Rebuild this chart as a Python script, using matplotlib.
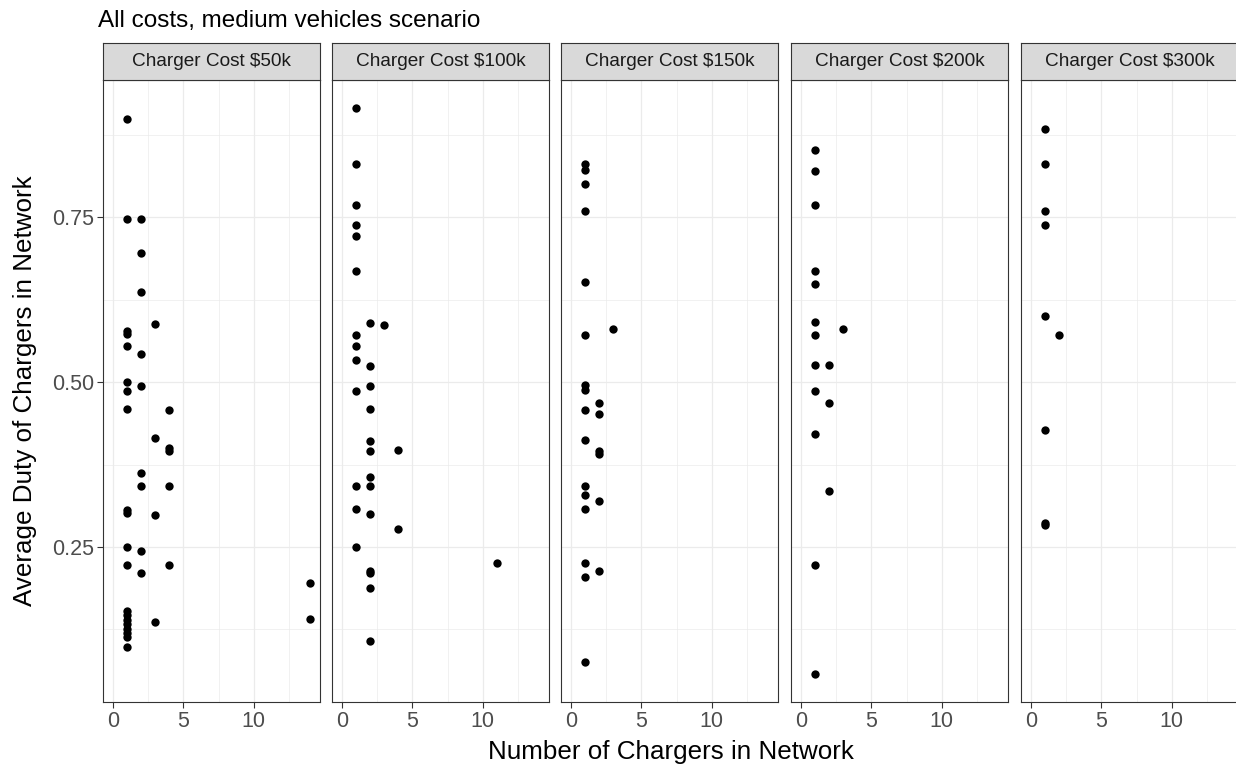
import matplotlib
matplotlib.use("Agg")
import matplotlib.pyplot as plt
import numpy as np

plt.rcParams['font.family'] = ['Liberation Sans', 'DejaVu Sans']

# Data, one pair of lists per facet
panel_titles = ["Charger Cost $50k", "Charger Cost $100k", "Charger Cost $150k",
                "Charger Cost $200k", "Charger Cost $300k"]

chargers_50k = [1, 1, 2, 2, 2, 3, 1, 1, 1, 2, 1, 1, 2, 1, 4, 3, 4, 4, 2, 2,
                4, 1, 1, 3, 1, 2, 1, 4, 2, 14, 14, 3, 1, 1, 1, 1, 1, 1, 1, 1]
duty_50k = [0.899, 0.748, 0.748, 0.695, 0.636, 0.588, 0.578, 0.573, 0.555, 0.542,
            0.500, 0.487, 0.494, 0.459, 0.457, 0.415, 0.400, 0.396, 0.362, 0.342,
            0.342, 0.306, 0.302, 0.298, 0.250, 0.244, 0.222, 0.222, 0.210, 0.195,
            0.141, 0.137, 0.153, 0.147, 0.140, 0.133, 0.126, 0.119, 0.113, 0.099]

chargers_100k = [1, 1, 1, 1, 1, 1, 2, 3, 1, 1, 1, 2, 1, 2, 2, 2, 2, 4, 2, 1,
                 2, 1, 2, 4, 1, 11, 2, 2, 2, 2]
duty_100k = [0.915, 0.830, 0.769, 0.738, 0.721, 0.668, 0.590, 0.587, 0.572, 0.555,
             0.533, 0.525, 0.487, 0.494, 0.459, 0.410, 0.396, 0.397, 0.356, 0.343,
             0.342, 0.308, 0.300, 0.277, 0.250, 0.225, 0.213, 0.210, 0.188, 0.108]

chargers_150k = [1, 1, 1, 1, 1, 1, 3, 1, 1, 2, 1, 2, 1, 2, 2, 1, 1, 2, 1, 1,
                 2, 1, 1]
duty_150k = [0.831, 0.821, 0.801, 0.759, 0.652, 0.572, 0.580, 0.495, 0.488, 0.469,
             0.458, 0.452, 0.412, 0.396, 0.391, 0.342, 0.329, 0.319, 0.308, 0.225,
             0.213, 0.204, 0.076]

chargers_200k = [1, 1, 1, 1, 1, 1, 3, 1, 1, 2, 1, 2, 1, 2, 1, 1]
duty_200k = [0.852, 0.820, 0.769, 0.668, 0.648, 0.591, 0.580, 0.572, 0.526, 0.526,
             0.487, 0.469, 0.422, 0.335, 0.222, 0.058]

chargers_300k = [1, 1, 1, 1, 1, 2, 1, 1, 1]
duty_300k = [0.883, 0.830, 0.759, 0.738, 0.600, 0.571, 0.427, 0.287, 0.283]

chargers = [chargers_50k, chargers_100k, chargers_150k, chargers_200k, chargers_300k]
duties = [duty_50k, duty_100k, duty_150k, duty_200k, duty_300k]

W, H = 1236, 767
fig = plt.figure(figsize=(W / 100, H / 100), dpi=100)

panel_left = [103, 332, 561, 791, 1021]
panel_w = 217
panel_top, panel_bot = 80, 702
strip_top = 43

grid_col = "#ebebeb"
edge_col = "#333333"

for i in range(5):
    l = panel_left[i]
    ax = fig.add_axes([l / W, 1 - panel_bot / H, panel_w / W, (panel_bot - panel_top) / H])
    ax.scatter(chargers[i], duties[i], s=36, color="black", linewidths=0, zorder=3)
    ax.set_xlim(-0.7, 14.7)
    ax.set_ylim(0.015, 0.958)
    ax.set_xticks([0, 5, 10])
    ax.set_xticks([2.5, 7.5, 12.5], minor=True)
    ax.set_yticks([0.25, 0.50, 0.75])
    ax.set_yticks([0.125, 0.375, 0.625, 0.875], minor=True)
    ax.grid(which="major", color=grid_col, linewidth=0.9, zorder=0)
    ax.grid(which="minor", color=grid_col, linewidth=0.5, zorder=0)
    ax.set_axisbelow(True)
    for sp in ax.spines.values():
        sp.set_color(edge_col)
        sp.set_linewidth(0.8)
    ax.tick_params(which="major", length=4, width=0.8, color=edge_col,
                   labelcolor="#4d4d4d", labelsize=15.5, pad=2.5)
    ax.tick_params(which="minor", length=0)
    ax.set_xticklabels(["0", "5", "10"])
    if i == 0:
        ax.set_yticklabels(["0.25", "0.50", "0.75"])
    else:
        ax.tick_params(axis="y", which="both", left=False, labelleft=False)

    # facet strip
    sax = fig.add_axes([l / W, 1 - panel_top / H, panel_w / W, (panel_top - strip_top) / H])
    sax.set_facecolor("#d9d9d9")
    sax.set_xticks([])
    sax.set_yticks([])
    for sp in sax.spines.values():
        sp.set_color(edge_col)
        sp.set_linewidth(0.8)
    sax.text(0.5, 0.5, panel_titles[i], ha="center", va="center",
             fontsize=13.7, color="#1a1a1a", transform=sax.transAxes)

fig.text(98 / W, 1 - 27 / H, "All costs, medium vehicles scenario",
         ha="left", va="baseline", fontsize=17.5, color="black")
fig.text(670.5 / W, 1 - 759 / H, "Number of Chargers in Network",
         ha="center", va="baseline", fontsize=18.7, color="black")
fig.text(25 / W, 1 - 391 / H, "Average Duty of Chargers in Network",
         ha="center", va="center", rotation=90, fontsize=18.7, color="black")

fig.savefig("out.png", dpi=100)
